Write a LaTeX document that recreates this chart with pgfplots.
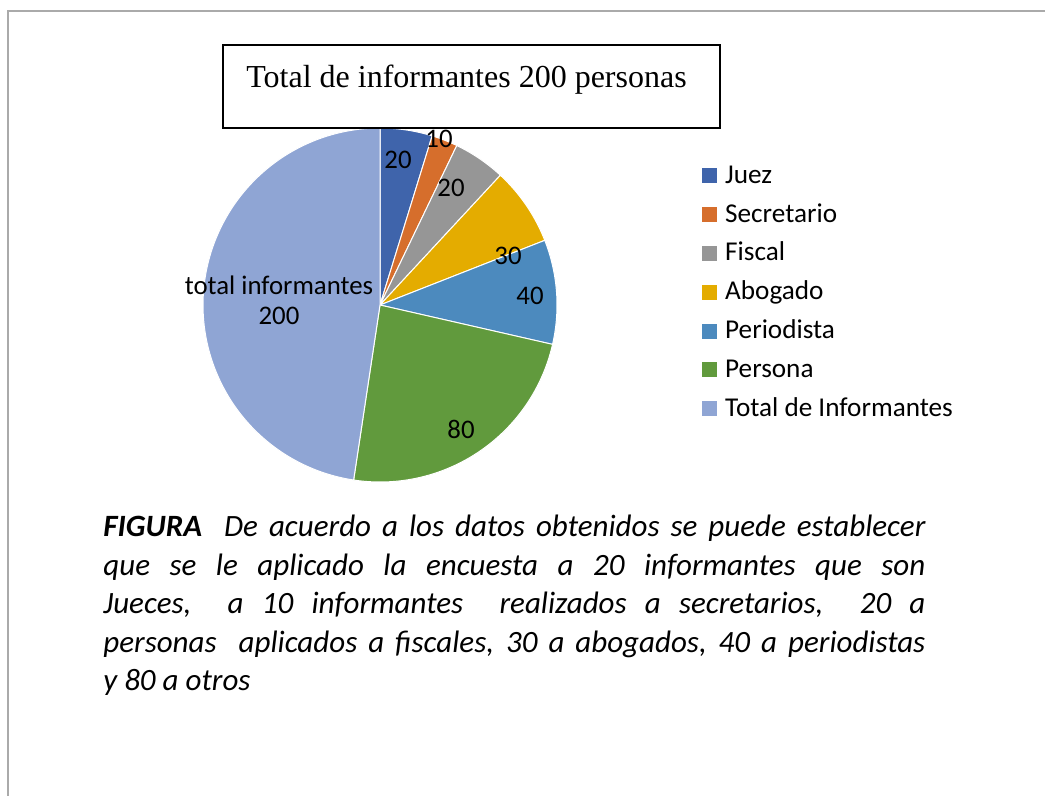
\documentclass[border=0pt]{standalone}
\usepackage{fontspec}
\setmainfont{Carlito}
\newfontfamily\timesfont{Liberation Serif}
\usepackage{pgfplots}
\pgfplotsset{compat=1.18}
\usepgfplotslibrary{polar}
\definecolor{cJuez}{HTML}{3F64AB}
\definecolor{cSec}{HTML}{D66E2C}
\definecolor{cFis}{HTML}{969696}
\definecolor{cAbo}{HTML}{E4AC00}
\definecolor{cPer}{HTML}{4C8ABE}
\definecolor{cPers}{HTML}{619A3D}
\definecolor{cTot}{HTML}{8FA5D4}
\definecolor{frame}{RGB}{170,170,170}
% slice values: Juez 20, Secretario 10, Fiscal 20, Abogado 30, Periodista 40, Persona 100, Total 200 (sum 420)
\pgfmathsetmacro\aO{90}
\pgfmathsetmacro\aA{90-(20)/420*360}
\pgfmathsetmacro\aB{90-(20+10)/420*360}
\pgfmathsetmacro\aC{90-(20+10+20)/420*360}
\pgfmathsetmacro\aD{90-(20+10+20+30)/420*360}
\pgfmathsetmacro\aE{90-(20+10+20+30+40)/420*360}
\pgfmathsetmacro\aF{90-(20+10+20+30+40+100)/420*360}
\pgfmathsetmacro\aG{90-(20+10+20+30+40+100+200)/420*360}
\begin{document}
\begin{tikzpicture}[x=0.5pt,y=-0.5pt]
\path[use as bounding box] (0,0) rectangle (1045,796);
\fill[white] (0,0) rectangle (1045,796);
\draw[frame, line width=1pt] (8,796) -- (8,11) -- (1045,11);
\begin{polaraxis}[
  at={(190pt,-152.5pt)}, anchor=origin,
  width=177pt, height=177pt, scale only axis,
  xmin=0, xmax=360, ymin=0, ymax=1, hide axis, clip=false,
  legend cell align=left,
  legend style={draw=none, fill=none, at={(axis description cs:1.392,0.910)}, anchor=north west,
    font=\fontsize{13.6}{15}\selectfont, row sep=6.9pt, column sep=0pt,
    nodes={inner sep=0pt, text height=9.5pt, text depth=3pt}},
  legend image code/.code={\fill[#1,draw=none] (0pt,-3.3pt) rectangle (7.5pt,4.2pt);},
  every axis plot/.append style={draw=white, line width=0.5pt, samples=40},
]
\addplot[fill=cJuez, domain=\aA:\aO] {1} -- (axis cs:0,0) -- cycle;
\addlegendentry{\hspace{4pt}Juez}
\addplot[fill=cSec, domain=\aB:\aA] {1} -- (axis cs:0,0) -- cycle;
\addlegendentry{\hspace{4pt}Secretario}
\addplot[fill=cFis, domain=\aC:\aB] {1} -- (axis cs:0,0) -- cycle;
\addlegendentry{\hspace{4pt}Fiscal}
\addplot[fill=cAbo, domain=\aD:\aC] {1} -- (axis cs:0,0) -- cycle;
\addlegendentry{\hspace{4pt}Abogado}
\addplot[fill=cPer, domain=\aE:\aD] {1} -- (axis cs:0,0) -- cycle;
\addlegendentry{\hspace{4pt}Periodista}
\addplot[fill=cPers, domain=\aF:\aE, samples=60] {1} -- (axis cs:0,0) -- cycle;
\addlegendentry{\hspace{4pt}Persona}
\addplot[fill=cTot, domain=\aG:\aF, samples=100] {1} -- (axis cs:0,0) -- cycle;
\addlegendentry{\hspace{4pt}Total de Informantes}
\end{polaraxis}
% data labels
\begin{scope}[every node/.style={font=\fontsize{13.4}{15}\selectfont, inner sep=0pt}]
\node at (398,160) {20};
\node at (439,139) {10};
\node at (451,188) {20};
\node at (508,256) {30};
\node at (530,296) {40};
\node at (461,429) {80};
\node at (279,285) {total informantes};
\node at (279,316) {200};
\end{scope}
% title box
\draw[fill=white, line width=1pt] (223,45) rectangle (720,128);
\node[anchor=base west, inner sep=0pt, font=\timesfont\fontsize{16}{19}\selectfont] at (246,88) {Total de informantes 200 personas};
% caption
\node[anchor=base west, inner sep=0pt, text width=411pt, align=justify,
      font=\itshape\fontsize{15.5}{19.25}\selectfont] at (103,537)
{\textbf{FIGURA}\ \ De acuerdo a los datos obtenidos se puede establecer\linebreak
que se le aplicado la encuesta a 20 informantes que son\linebreak
Jueces,\ \ a 10 informantes\ \ realizados a secretarios,\ \ 20 a\linebreak
personas\ \ aplicados a fiscales, 30 a abogados, 40 a periodistas\linebreak
y 80 a otros};
\end{tikzpicture}
\end{document}
